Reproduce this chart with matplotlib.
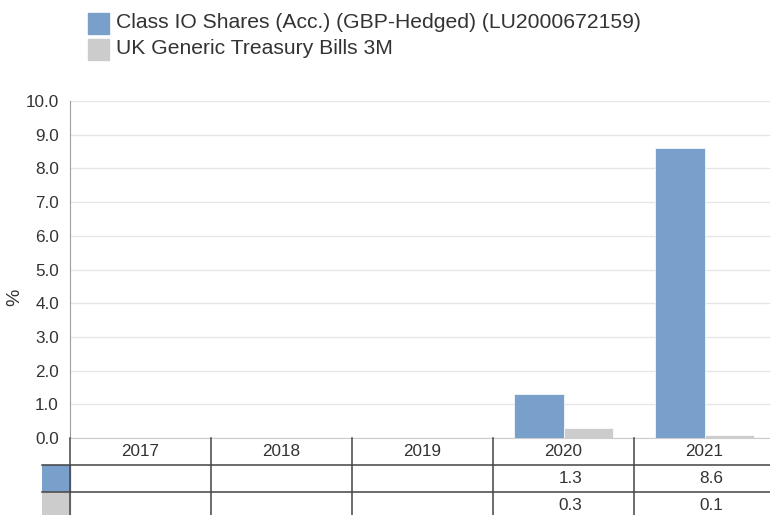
import numpy as np
import matplotlib.pyplot as plt

plt.rcParams['font.family'] = ['Liberation Sans', 'DejaVu Sans']

years = ['2017', '2018', '2019', '2020', '2021']
fund = [np.nan, np.nan, np.nan, 1.3, 8.6]
bills = [np.nan, np.nan, np.nan, 0.3, 0.1]
series_names = ['Class IO Shares (Acc.) (GBP-Hedged) (LU2000672159)',
                'UK Generic Treasury Bills 3M']
yticks = np.arange(0, 10.01, 1.0)

blue = '#799fcb'
grey = '#cccccc'
txt = '#333333'
fs = 12.3

W, H = 770, 515
fig = plt.figure(figsize=(W / 100, H / 100), dpi=100)

# main chart area, pixel positions
x0, x1, ytop, ybot = 70, 775, 101, 438
ax = fig.add_axes([x0 / W, (H - ybot) / H, (x1 - x0) / W, (ybot - ytop) / H])
x = np.arange(len(years))
bw = 0.348
ax.bar(x - bw / 2, fund, bw, color=blue, edgecolor='white', linewidth=0.5, zorder=3)
ax.bar(x + bw / 2, bills, bw, color=grey, edgecolor='white', linewidth=0.5, zorder=3)
ax.set_xlim(-0.5, len(years) - 0.5)
ax.set_ylim(0, 10)
ax.set_yticks(yticks)
ax.set_yticklabels([f'{v:.1f}' for v in yticks], fontsize=fs, color=txt)
ax.set_xticks([])
ax.tick_params(axis='y', length=0, pad=8)
ax.grid(axis='y', color='#e6e6e6', linewidth=1, zorder=0)
for s in ['top', 'right']:
    ax.spines[s].set_visible(False)
ax.spines['left'].set_color('#a0a0a0')
ax.spines['bottom'].set_color('#cccccc')
fig.text(15 / W, (H - 297) / H, '%', rotation=90, ha='center', va='center',
         fontsize=14, color=txt)

# data table below the chart
row_h = 27
tx0 = 42
tab = fig.add_axes([tx0 / W, 0, (x1 - tx0) / W, (H - ybot) / H])
ncols = len(years)
px_per_unit = (x1 - x0) / ncols
left_lim = -0.5 - (x0 - tx0) / px_per_unit
tab.set_xlim(left_lim, ncols - 0.5)
tab.set_ylim((H - ybot) / row_h, 0)
tab.axis('off')

dark = '#444444'
for r in [1, 2]:
    tab.plot([left_lim, ncols - 0.5], [r, r], color=dark, linewidth=1.1, clip_on=False)
for c in range(ncols):
    tab.plot([c - 0.5, c - 0.5], [0, 3], color=dark, linewidth=1.1, clip_on=False)
tab.add_patch(plt.Rectangle((left_lim, 1), -0.5 - left_lim, 1, color=blue, zorder=0))
tab.add_patch(plt.Rectangle((left_lim, 2), -0.5 - left_lim, 1, color=grey, zorder=0))

for c, yr in enumerate(years):
    tab.text(c, 0.5, yr, ha='center', va='center', fontsize=fs, color=txt)
    if not np.isnan(fund[c]):
        tab.text(c + 0.05, 1.5, f'{fund[c]:.1f}', ha='center', va='center', fontsize=fs, color=txt)
    if not np.isnan(bills[c]):
        tab.text(c + 0.05, 2.5, f'{bills[c]:.1f}', ha='center', va='center', fontsize=fs, color=txt)

# legend at top
for i, (name, col) in enumerate(zip(series_names, [blue, grey])):
    yc = 23 + i * 26
    fig.patches.append(plt.Rectangle((88 / W, (H - yc - 10.5) / H), 21 / W, 21 / H,
                                     transform=fig.transFigure, color=col, figure=fig))
    fig.text(116 / W, (H - yc) / H, name, ha='left', va='center', fontsize=15.2, color=txt)

fig.savefig('out.png', dpi=100)
